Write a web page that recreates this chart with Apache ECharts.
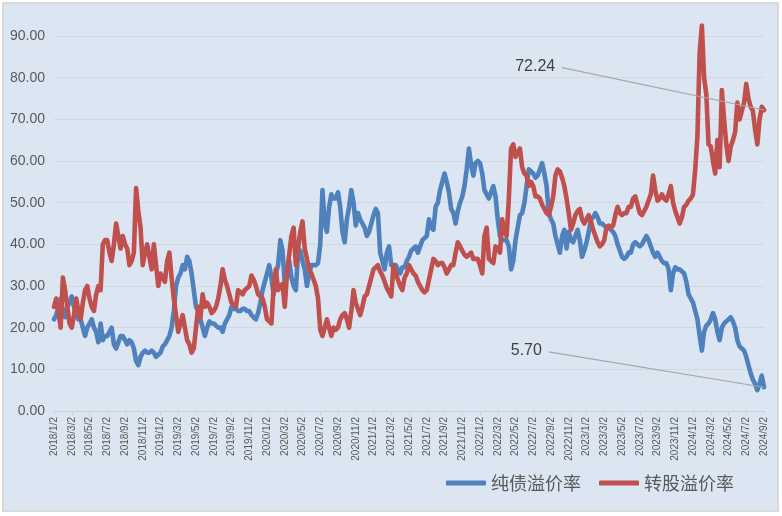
<!DOCTYPE html>
<html>
<head>
<meta charset="utf-8">
<script src="https://cdn.jsdelivr.net/npm/echarts@6/dist/echarts.min.js"></script>
<style>
html,body{margin:0;padding:0;background:#ffffff;}
#chart{width:782px;height:516px;}
</style>
</head>
<body>
<div id="chart"></div>
<script>
// Weekly samples (4 per month: day 2, 9, 16, 23) from 2018/1/2 to 2024/9/2
const seriesNames = ['纯债溢价率', '转股溢价率'];
const yTickLabels = ['0.00','10.00','20.00','30.00','40.00','50.00','60.00','70.00','80.00','90.00'];
const weekDays = [2, 9, 16, 23];

const pureBondPremium = [
  22,23,25,27, 24,22.5,25,26, 27.5,25,23,22, 22,20,18,20, 21,22,20,19, 16.5,21,17,18,
  18,19,20,16, 15,16.5,18,18, 17,16,17,16.5, 15,12,11,13, 14,14.5,14,14, 14.5,14,13,13.5,
  14,15.5,16,17, 18,20,24,30, 32,33,35,34, 37,36,33,29, 25,24,22,20, 18,20,21.5,21,
  21,20.5,20,20, 19,21,22,23, 25,24.5,24.5,24, 24,24.5,24.5,24, 24,23,22.5,22, 23.5,26,29,31,
  33,35,32,28, 33,35,41,38.5, 30.5,34,36,32, 30,29,38,38.5, 36,34,30,33, 35,35,35,35.5,
  40,53,45,43, 49,52,51,51, 52.5,49,43,40.5, 46,49,53,50, 44.5,47.5,46,45, 44,42,43,45,
  47,48.5,47.5,38, 36,34,38,39.5, 35,35,35,34, 33,34.5,34.5,36, 37,38.5,39,39.5, 38,39.5,41,41.5,
  42,46,44,43.5, 49,50,53,55, 57,55,52.5,48.5, 47.5,45,48,50, 51.5,54,58,63, 59,56.5,59.5,60,
  59.5,57,53,52, 51,52.5,54,51.5, 46,42,41,41, 41,39.5,34,36, 41,44,47,47.5, 50,54,58,57.5,
  57,56,56.5,58, 59.5,57,54,47.5, 46,45,42,40, 38,42,43.5,39, 43,41,40.5,42, 43.5,41,37,38.5,
  40.5,43,46,46.5, 47.5,46.5,45,45, 44.5,44,44,43.5, 43,42,40,38.5, 37,36.5,37,38, 38,40,40.5,40,
  39.5,40,41,42, 41,39.5,38,37, 38,37,36,35.5, 35.5,34,29,33, 34.5,34,34,33.5, 33,31,28,27,
  26,24,22,18, 14.5,19,20.5,21, 22,23.5,22,19, 17,20,21,21.5, 22,22.5,21.5,20, 17,15.5,15,14.5,
  13,11,9,7.5, 6.5,5,6.5,8.5,
  5.70
];

const conversionPremium = [
  25,27,24,20, 32,29,25,21, 20,23,27,24, 22,26,29,30, 27,25,24,28, 30,29,40,41,
  41,38,36,40, 45,42,39,42, 40,39,35,36, 38,53.5,48,44, 35,38,40,37, 34,40,35,30,
  33,32,31,36, 38,32,27,23, 19,21,23,20, 17,16,14,15, 20,25,22.5,28, 25,26,25,23.5,
  24,25,27,30, 34,31.5,30,28, 26,25.5,25,29, 28.5,28,29,29.5, 30,32.5,31.5,30, 28,27.5,27,25,
  22,21.5,21,30, 34,29,30,30.5, 25,33,37.5,42, 44,35,39,43, 45.5,39,36.5,34, 33,31.5,30,27,
  19.5,18,20,22, 20,18,20,19.5, 20,22,23,23.5, 22,20,24,29, 26,24.5,23,25, 27.5,28,30,32,
  34,34.5,35,33.5, 32.5,31,29.5,28.5, 27.5,35,33,31.5, 30,29,32,33, 35,34,33,32.5, 31,30,29,28.5,
  29,31.5,34,36.5, 36,35,35.5,35.5, 34.5,33,34,35, 35,38,40.5,39.5, 38.5,37.5,37,37.5, 38,36.5,36.5,36.5,
  35,33,42,44, 36.5,36,35.5,39.5, 39,38,46,43, 42,51,63,64, 61,62,63,58.5, 57,56.5,54,55,
  54,51.5,51.5,51, 49.5,48.5,47.5,47, 49,51.5,56.5,58, 57.5,56,54,51, 47.5,43.5,45,47, 48,48.5,46,45,
  46,47,45.5,43.5, 42,40.5,39.5,40, 41,44,44.5,44, 44.5,47,49,47.5, 47,47.5,47.5,49, 49,51,51.5,49.5,
  47.5,47,48,49, 50.5,52,56.5,53, 50.5,51,52,51, 50.5,52,54,50, 48,46.5,45,46.5, 49,49.5,50.5,51,
  52,58,66,86, 92.5,80,76,64, 63.5,60,57,65, 58.5,77,70,64, 60,63.5,65,67, 74,70,72,74,
  78.5,75,73,72, 67.5,64,70,73,
  72.24
];

// categories: weekly dates
const categories = [];
for (let y = 2018; y <= 2024; y++) {
  for (let mo = 1; mo <= 12; mo++) {
    for (const d of weekDays) {
      if (y === 2024 && (mo > 9 || (mo === 9 && d > 2))) continue;
      categories.push(y + '/' + mo + '/' + d);
    }
  }
}

const lastIdx = categories.length - 1;
const showTick = (idx) => idx % 8 === 0;

const chart = echarts.init(document.getElementById('chart'), null, {renderer: 'canvas'});
const labelStyle = {color: '#404040', fontSize: 16, fontFamily: 'Liberation Sans, Arial, sans-serif'};

chart.setOption({
  backgroundColor: '#ffffff',
  animation: false,
  graphic: [{
    type: 'rect', z: -10, silent: true,
    shape: {x: 3, y: 3, width: 775, height: 508},
    style: {fill: '#dce6f2', stroke: '#d9d9d9', lineWidth: 2}
  }],
  grid: {left: 54, right: 18, top: 36, bottom: 105, containLabel: false},
  legend: {
    data: seriesNames,
    left: 441, top: 469,
    itemWidth: 40, itemHeight: 5, itemGap: 18,
    icon: 'roundRect',
    textStyle: {color: '#595959', fontSize: 18, fontFamily: 'Noto Sans CJK SC, sans-serif'}
  },
  xAxis: {
    type: 'category',
    data: categories,
    boundaryGap: false,
    axisLine: {lineStyle: {color: '#d0d0d0', width: 1}},
    axisTick: {show: true, interval: showTick, length: 4, lineStyle: {color: '#d0d0d0'}},
    axisLabel: {
      interval: showTick, rotate: 90, margin: 6,
      color: '#595959', fontSize: 10, fontFamily: 'Liberation Sans, Arial, sans-serif'
    },
    splitLine: {show: false}
  },
  yAxis: {
    type: 'value',
    min: 0, max: 90, interval: 10,
    axisLine: {show: false},
    axisTick: {show: false},
    axisLabel: {
      margin: 9,
      color: '#595959', fontSize: 14, fontFamily: 'Liberation Sans, Arial, sans-serif',
      formatter: (v) => yTickLabels[Math.round(v / 10)]
    },
    splitLine: {lineStyle: {color: '#d4d7dc', width: 1}}
  },
  series: [
    {
      name: seriesNames[0], type: 'line', data: pureBondPremium,
      showSymbol: false, clip: false,
      lineStyle: {color: '#4f81bd', width: 4.6, join: 'round', cap: 'round'},
      itemStyle: {color: '#4f81bd'},
      markLine: {
        silent: true, symbol: ['none', 'none'],
        lineStyle: {color: '#a6a6a6', width: 1.2, type: 'solid'},
        label: {show: true, position: 'start', distance: 7, formatter: pureBondPremium[lastIdx].toFixed(2), ...labelStyle},
        data: [[{coord: [223, 14.2]}, {coord: [lastIdx, pureBondPremium[lastIdx]]}]]
      }
    },
    {
      name: seriesNames[1], type: 'line', data: conversionPremium,
      showSymbol: false, clip: false,
      lineStyle: {color: '#c0504d', width: 4.6, join: 'round', cap: 'round'},
      itemStyle: {color: '#c0504d'},
      markLine: {
        silent: true, symbol: ['none', 'none'], z: 5,
        lineStyle: {color: '#a6a6a6', width: 1.2, type: 'solid'},
        label: {show: true, position: 'start', distance: 7, formatter: conversionPremium[lastIdx].toFixed(2), ...labelStyle},
        data: [[{coord: [229, 82.4]}, {coord: [lastIdx, conversionPremium[lastIdx]]}]]
      }
    }
  ]
});
</script>
</body>
</html>
